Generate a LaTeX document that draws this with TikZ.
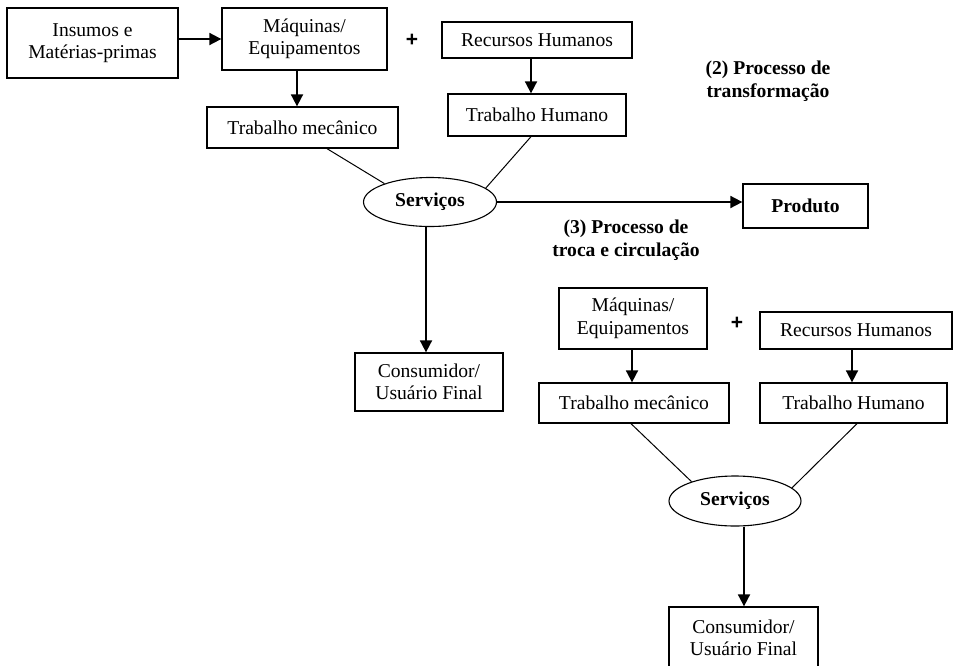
\documentclass[tikz,border=0pt]{standalone}
\usepackage{fontspec}
\setmainfont{Liberation Serif}
\setsansfont{Liberation Sans}
\usetikzlibrary{arrows.meta,shapes.geometric}
\begin{document}
\begin{tikzpicture}[x=1pt,y=1pt,
  every node/.style={font=\fontsize{19.6}{22.5}\selectfont},
  bx/.style={draw,line width=1.3pt,rectangle,inner sep=0pt,align=center},
  ell/.style={draw,line width=1.1pt,ellipse,inner sep=0pt,font=\fontsize{19.6}{22.5}\selectfont\bfseries},
  arr/.style={line width=1.8pt,-{Triangle[length=12pt,width=12pt]}},
  ln/.style={line width=1pt},
  lbl/.style={align=center,font=\fontsize{19.6}{22.5}\selectfont\bfseries},
  plus/.style={font=\fontsize{21}{22}\selectfont\sffamily\bfseries}]
\useasboundingbox (0,0) rectangle (953,-665);
% upper part
\node[bx,minimum width=171,minimum height=70] (b1) at (92.5,-43) {Insumos e\\Matérias-primas};
\node[bx,minimum width=165,minimum height=62] (b2) at (304.5,-39) {Máquinas/\\Equipamentos};
\node[plus] (p1) at (412,-40) {+};
\node[bx,minimum width=190,minimum height=36] (rh) at (537,-40) {Recursos Humanos};
\node[bx,minimum width=191,minimum height=41] (tm) at (302.5,-127.5) {Trabalho mecânico};
\node[bx,minimum width=178,minimum height=42] (th) at (537,-115) {Trabalho Humano};
\node[ell,minimum width=133,minimum height=49] (sv) at (430,-202) {Serviços};
\node[bx,minimum width=125,minimum height=44,font=\fontsize{19.6}{22.5}\selectfont\bfseries] (pr) at (805.5,-206) {Produto};
\node[lbl] (l2) at (768,-81) {(2) Processo de\\transformação};
\node[lbl] (l3) at (626,-240) {(3) Processo de\\troca e circulação};
\node[bx,minimum width=148,minimum height=58] (cf) at (429,-382) {Consumidor/\\Usuário Final};
\draw[arr] (b1.east |- b2) -- (b2.west);
\draw[arr] ([xshift=-7.5]b2.south) -- ([xshift=-7.5]b2.south |- tm.north);
\draw[arr] ([xshift=-6]rh.south) -- ([xshift=-6]rh.south |- th.north);
\draw[ln] ([xshift=24.5]tm.south) -- (sv.158);
\draw[ln] ([xshift=-6]th.south) -- (sv.14);
\draw[arr] (sv.east) -- (pr.west |- sv.east);
\draw[arr] ([xshift=-4]sv.south) -- ([xshift=-4]sv.south |- cf.north);
% lower part
\node[bx,minimum width=148,minimum height=61] (b3) at (633,-318.5) {Máquinas/\\Equipamentos};
\node[plus] (p2) at (737,-323) {+};
\node[bx,minimum width=192,minimum height=37] (rh2) at (856,-330.5) {Recursos Humanos};
\node[bx,minimum width=190,minimum height=40] (tm2) at (634,-403) {Trabalho mecânico};
\node[bx,minimum width=187,minimum height=40] (th2) at (853.5,-403) {Trabalho Humano};
\node[ell,minimum width=132,minimum height=50] (sv2) at (735,-501) {Serviços};
\node[bx,minimum width=149,minimum height=62] (cf2) at (743.5,-638) {Consumidor/\\Usuário Final};
\draw[arr] ([xshift=-1]b3.south) -- ([xshift=-1]b3.south |- tm2.north);
\draw[arr] ([xshift=-4]rh2.south) -- ([xshift=-4]rh2.south |- th2.north);
\draw[ln] ([xshift=-3]tm2.south) -- (sv2.156);
\draw[ln] ([xshift=3.5]th2.south) -- (sv2.13);
\draw[arr] ([xshift=9]sv2.south) -- ([xshift=9]sv2.south |- cf2.north);
\end{tikzpicture}
\end{document}
